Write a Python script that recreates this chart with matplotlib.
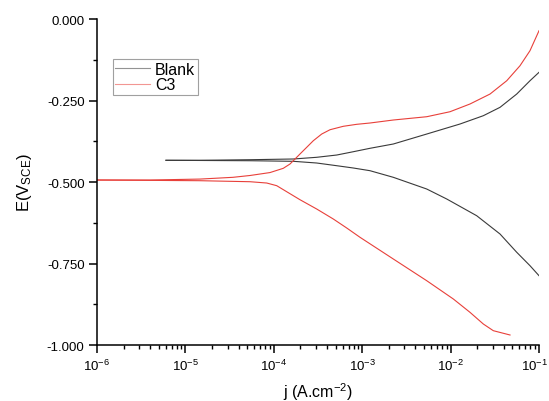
import matplotlib
matplotlib.use("Agg")
import matplotlib.pyplot as plt
from matplotlib.ticker import LogLocator, MultipleLocator, FormatStrFormatter, NullFormatter
from matplotlib.transforms import ScaledTranslation
import numpy as np

plt.rcParams["font.family"] = ["Liberation Sans", "DejaVu Sans"]
plt.rcParams["mathtext.fontset"] = "custom"
plt.rcParams["mathtext.rm"] = "Liberation Sans"
plt.rcParams["mathtext.it"] = "Liberation Sans:italic"
plt.rcParams["mathtext.default"] = "regular"

# log10(j / A cm^-2) and E (V vs SCE)
blank_anod_logj = [-5.220, -4.835, -4.269, -3.779, -3.515, -3.288, -3.101, -2.912, -2.648, -2.270,
                   -1.894, -1.630, -1.441, -1.252, -1.102, -1.000]
blank_anod_e = [-0.4334, -0.4334, -0.4316, -0.4294, -0.4242, -0.4172, -0.4071, -0.3966, -0.3834, -0.3528,
                -0.3221, -0.2966, -0.2709, -0.2301, -0.1893, -0.1635]
blank_cath_logj = [-5.220, -4.269, -3.779, -3.515, -3.288, -3.101, -2.912, -2.648, -2.270, -2.044,
                   -1.705, -1.441, -1.252, -1.102, -1.000]
blank_cath_e = [-0.4334, -0.4347, -0.4365, -0.4417, -0.4500, -0.4570, -0.4653, -0.4856, -0.5215, -0.5521,
                -0.6034, -0.6595, -0.7156, -0.7567, -0.7874]

c3_anod_logj = [-6.000, -5.400, -4.835, -4.462, -4.269, -4.043, -3.893, -3.817, -3.760, -3.704, -3.628,
                -3.553, -3.458, -3.364, -3.214, -3.062, -2.912, -2.648, -2.270, -2.007, -1.781, -1.554,
                -1.365, -1.215, -1.102, -1.000]
c3_anod_e = [-0.4939, -0.4939, -0.4910, -0.4856, -0.4800, -0.4710, -0.4580, -0.4448, -0.4294, -0.4141,
             -0.3936, -0.3733, -0.3528, -0.3396, -0.3291, -0.3230, -0.3190, -0.3098, -0.2997, -0.2844,
             -0.2607, -0.2301, -0.1893, -0.1433, -0.0972, -0.0359]
c3_cath_logj = [-6.000, -4.835, -4.269, -4.080, -3.967, -3.854, -3.704, -3.515, -3.327, -3.175, -3.025,
                -2.648, -2.270, -1.969, -1.781, -1.630, -1.517, -1.328]
c3_cath_e = [-0.4939, -0.4960, -0.4991, -0.5031, -0.5113, -0.5298, -0.5543, -0.5828, -0.6135, -0.6411,
             -0.6696, -0.7362, -0.8028, -0.8589, -0.8997, -0.9356, -0.9561, -0.9693]

x_tick_exps = [-6, -5, -4, -3, -2, -1]

BLACK = "#3a3a3a"
RED = "#e8403a"

fig = plt.figure(figsize=(5.49, 4.02), dpi=100)
ax = fig.add_axes([0.1767, 0.1393, 0.8051, 0.8109])

ax.plot(10 ** np.array(blank_anod_logj), blank_anod_e, color=BLACK, lw=0.8, label="Blank")
ax.plot(10 ** np.array(blank_cath_logj), blank_cath_e, color=BLACK, lw=0.8)
ax.plot(10 ** np.array(c3_anod_logj), c3_anod_e, color=RED, lw=0.8, label="C3")
ax.plot(10 ** np.array(c3_cath_logj), c3_cath_e, color=RED, lw=0.8)

ax.set_xscale("log")
ax.set_xlim(1e-6, 1e-1)
ax.set_ylim(-1.0, 0.0)

for side in ("top", "right"):
    ax.spines[side].set_visible(False)
for side in ("left", "bottom"):
    ax.spines[side].set_linewidth(1.1)

ax.yaxis.set_major_locator(MultipleLocator(0.25))
ax.yaxis.set_minor_locator(MultipleLocator(0.125))
ax.yaxis.set_major_formatter(FormatStrFormatter("%.3f"))
ax.set_xticks([10.0 ** e for e in x_tick_exps], [f"10$^{{{e}}}$" for e in x_tick_exps])
ax.xaxis.set_minor_locator(LogLocator(base=10, subs=np.arange(2, 10), numticks=20))
ax.xaxis.set_minor_formatter(NullFormatter())

ax.tick_params(which="major", direction="out", length=5.5, width=1.1, labelsize=9.5)
ax.tick_params(which="minor", direction="out", length=3, width=1.0)
ax.tick_params(axis="x", which="major", pad=4)

ax.set_xlabel("j (A.cm$^{-2}$)", fontsize=11.5, labelpad=5)
ax.set_ylabel("E(V$_{SCE}$)", fontsize=12, labelpad=9)

leg = ax.legend(loc="upper left", bbox_to_anchor=(0.036, 0.877), fontsize=11.5, frameon=True,
                fancybox=False, edgecolor="#888888", handlelength=2.2, handletextpad=0.3,
                borderpad=0.15, labelspacing=0.05, borderaxespad=0)
leg.get_frame().set_linewidth(0.8)
for h in leg.get_lines():
    h.set_alpha(0.55)

# keep the last x tick label (10^-1) inside the canvas
last = ax.get_xticklabels()[-1]
last.set_transform(last.get_transform() + ScaledTranslation(-3 / 72, 0, fig.dpi_scale_trans))

fig.savefig("out.png", dpi=100)
